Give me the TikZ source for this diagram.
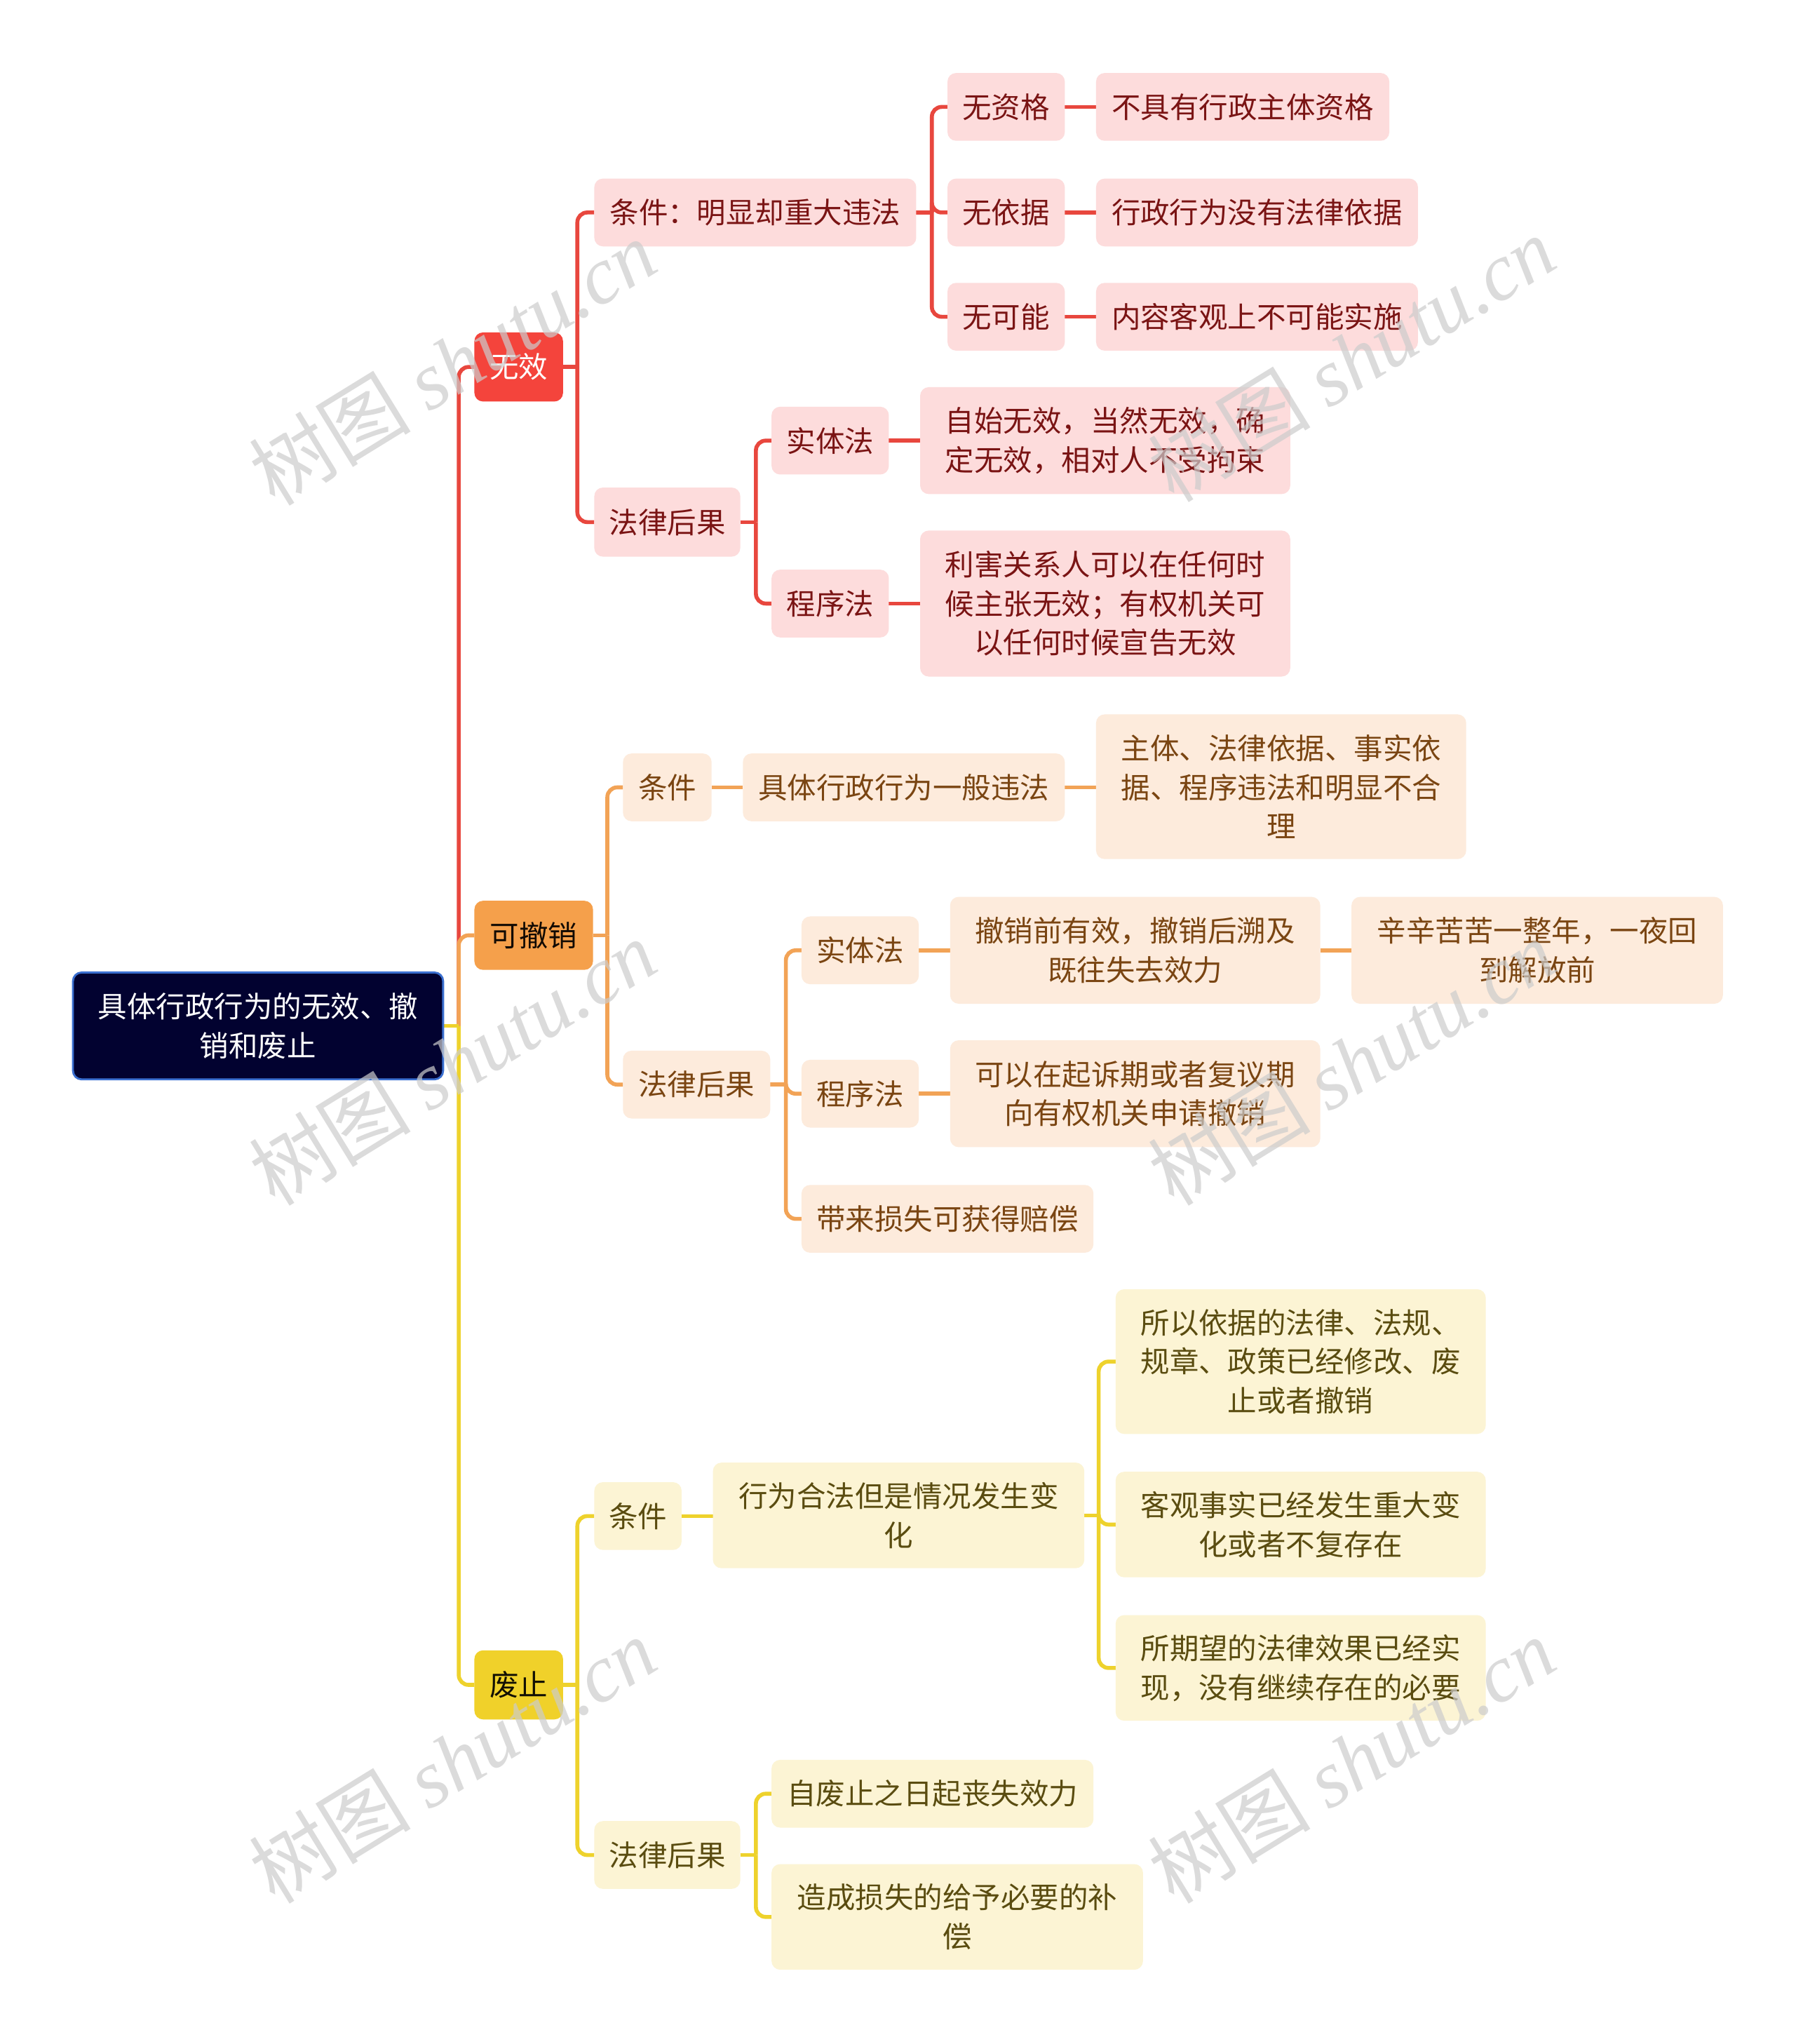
\documentclass[tikz,border=0pt]{standalone}
\usepackage{fontspec}
\setmainfont{Noto Sans CJK SC}
\newfontfamily\wmlat{Liberation Serif}
\usetikzlibrary{backgrounds}
\definecolor{rootfill}{HTML}{020230}
\definecolor{rootdraw}{HTML}{3A6FD0}
\definecolor{redmain}{HTML}{F4443C}
\definecolor{orgmain}{HTML}{F5A04B}
\definecolor{yelmain}{HTML}{F0D12A}
\definecolor{redlite}{HTML}{FDDCDC}
\definecolor{orglite}{HTML}{FDEBDC}
\definecolor{yellite}{HTML}{FCF4D4}
\definecolor{redtext}{HTML}{7A1414}
\definecolor{orgtext}{HTML}{7A4512}
\definecolor{yeltext}{HTML}{5A4C10}
\definecolor{redline}{HTML}{E8473E}
\definecolor{orgline}{HTML}{F2A356}
\definecolor{yelline}{HTML}{EED22C}
\newcommand\nd[7]{\node[#6, minimum width={(#4-#2)*0.18578mm}, minimum height={(#5-#3)*0.18578mm}] (#1) at ({(#2+#4)/2},{(#3+#5)/2}) {#7};}
\newcommand\elb[4]{\draw[#1] (#2.east) -- ++(#4,0) coordinate (jn); \draw[#1, rounded corners=4pt] (jn) |- (#3.west);}
\newcommand\str[3]{\draw[#1] (#2.east) -- (#2.east -| #3.west);}
\tikzset{
  box/.style={rectangle, rounded corners=3.5pt, inner sep=0pt, outer sep=0pt, align=center, font=\fontsize{11.8}{15.8}\selectfont},
  rootbox/.style={box, fill=rootfill, draw=rootdraw, line width=0.8pt, text=white},
  redtop/.style={box, fill=redmain, text=white},
  orgtop/.style={box, fill=orgmain, text=black!85!orgtext},
  yeltop/.style={box, fill=yelmain, text=black!80!yeltext},
  redbox/.style={box, fill=redlite, text=redtext},
  orgbox/.style={box, fill=orglite, text=orgtext},
  yelbox/.style={box, fill=yellite, text=yeltext},
  rl/.style={draw=redline, line width=1.6pt},
  ol/.style={draw=orgline, line width=1.6pt},
  yl/.style={draw=yelline, line width=1.6pt},
  wm/.style={rotate=31.6, text=black!20, opacity=0.7, font=\fontsize{33}{38}\selectfont}
}
\begin{document}
\begin{tikzpicture}[x=0.18578mm, y=-0.18578mm]
\useasboundingbox (0,0) rectangle (1378,1568);
% root
\nd{root}{56}{746}{340}{828}{rootbox}{具体行政行为的无效、撤\\销和废止}
% level 1
\nd{wx}{364}{255}{432}{308}{redtop}{无效}
\nd{kcx}{364}{691}{455}{744}{orgtop}{可撤销}
\nd{fz}{364}{1266}{432}{1319}{yeltop}{废止}
% 无效 branch
\nd{wxc}{456}{137}{703}{189}{redbox}{条件：明显却重大违法}
\nd{wxl}{456}{374}{568}{427}{redbox}{法律后果}
\nd{wzg}{727}{56}{817}{108}{redbox}{无资格}
\nd{wyj}{727}{137}{817}{189}{redbox}{无依据}
\nd{wkn}{727}{217}{817}{269}{redbox}{无可能}
\nd{wzgd}{841}{56}{1066}{108}{redbox}{不具有行政主体资格}
\nd{wyjd}{841}{137}{1088}{189}{redbox}{行政行为没有法律依据}
\nd{wknd}{841}{217}{1088}{269}{redbox}{内容客观上不可能实施}
\nd{wst}{592}{312}{682}{364}{redbox}{实体法}
\nd{wcx}{592}{437}{682}{489}{redbox}{程序法}
\nd{wstd}{706}{297}{990}{379}{redbox}{自始无效，当然无效，确\\定无效，相对人不受拘束}
\nd{wcxd}{706}{407}{990}{519}{redbox}{利害关系人可以在任何时\\候主张无效；有权机关可\\以任何时候宣告无效}
% 可撤销 branch
\nd{kc}{478}{578}{546}{630}{orgbox}{条件}
\nd{kcd}{570}{578}{817}{630}{orgbox}{具体行政行为一般违法}
\nd{kcdd}{841}{548}{1125}{659}{orgbox}{主体、法律依据、事实依\\据、程序违法和明显不合\\理}
\nd{kl}{478}{806}{591}{858}{orgbox}{法律后果}
\nd{kst}{615}{703}{705}{755}{orgbox}{实体法}
\nd{kcxx}{615}{813}{705}{865}{orgbox}{程序法}
\nd{kpc}{615}{909}{839}{961}{orgbox}{带来损失可获得赔偿}
\nd{kstd}{729}{688}{1013}{770}{orgbox}{撤销前有效，撤销后溯及\\既往失去效力}
\nd{kstdd}{1037}{688}{1322}{770}{orgbox}{辛辛苦苦一整年，一夜回\\到解放前}
\nd{kcxd}{729}{798}{1013}{880}{orgbox}{可以在起诉期或者复议期\\向有权机关申请撤销}
% 废止 branch
\nd{fc}{456}{1137}{523}{1189}{yelbox}{条件}
\nd{fcd}{547}{1122}{832}{1203}{yelbox}{行为合法但是情况发生变\\化}
\nd{fa}{856}{989}{1140}{1100}{yelbox}{所以依据的法律、法规、\\规章、政策已经修改、废\\止或者撤销}
\nd{fb}{856}{1129}{1140}{1210}{yelbox}{客观事实已经发生重大变\\化或者不复存在}
\nd{fcc}{856}{1239}{1140}{1320}{yelbox}{所期望的法律效果已经实\\现，没有继续存在的必要}
\nd{fl}{456}{1397}{568}{1449}{yelbox}{法律后果}
\nd{fla}{592}{1350}{839}{1402}{yelbox}{自废止之日起丧失效力}
\nd{flb}{592}{1430}{877}{1511}{yelbox}{造成损失的给予必要的补\\偿}
% connectors
\begin{pgfonlayer}{background}
\fill[white] (0,0) rectangle (1378,1568);
\elb{rl}{root}{wx}{12}
\elb{ol}{root}{kcx}{12}
\elb{yl}{root}{fz}{12}
\elb{rl}{wx}{wxc}{11}
\elb{rl}{wx}{wxl}{11}
\elb{rl}{wxc}{wzg}{12}
\elb{rl}{wxc}{wyj}{12}
\elb{rl}{wxc}{wkn}{12}
\str{rl}{wzg}{wzgd}
\str{rl}{wyj}{wyjd}
\str{rl}{wkn}{wknd}
\elb{rl}{wxl}{wst}{12}
\elb{rl}{wxl}{wcx}{12}
\str{rl}{wst}{wstd}
\str{rl}{wcx}{wcxd}
\elb{ol}{kcx}{kc}{11}
\elb{ol}{kcx}{kl}{11}
\str{ol}{kc}{kcd}
\str{ol}{kcd}{kcdd}
\elb{ol}{kl}{kst}{12}
\elb{ol}{kl}{kcxx}{12}
\elb{ol}{kl}{kpc}{12}
\str{ol}{kst}{kstd}
\str{ol}{kstd}{kstdd}
\str{ol}{kcxx}{kcxd}
\elb{yl}{fz}{fc}{11}
\elb{yl}{fz}{fl}{11}
\str{yl}{fc}{fcd}
\elb{yl}{fcd}{fa}{11}
\elb{yl}{fcd}{fb}{11}
\elb{yl}{fcd}{fcc}{11}
\elb{yl}{fl}{fla}{12}
\elb{yl}{fl}{flb}{12}
\end{pgfonlayer}
% watermarks
\node[wm] (wm1) at (347,278) {树图 {\wmlat\itshape shutu.cn}};
\node[wm] (wm2) at (1037,275) {树图 {\wmlat\itshape shutu.cn}};
\node[wm] (wm3) at (347,815) {树图 {\wmlat\itshape shutu.cn}};
\node[wm] (wm4) at (1037,815) {树图 {\wmlat\itshape shutu.cn}};
\node[wm] (wm5) at (347,1350) {树图 {\wmlat\itshape shutu.cn}};
\node[wm] (wm6) at (1037,1350) {树图 {\wmlat\itshape shutu.cn}};
\end{tikzpicture}
\end{document}
